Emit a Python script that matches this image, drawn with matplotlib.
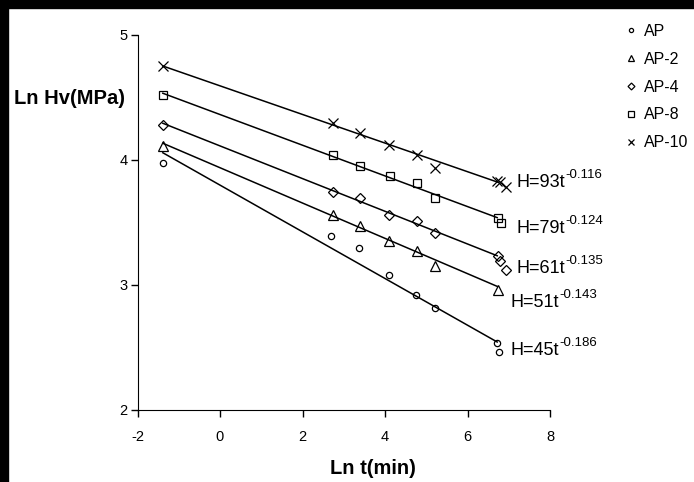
import numpy as np
import matplotlib
matplotlib.use("Agg")
import matplotlib.pyplot as plt
from matplotlib.patches import Rectangle
from matplotlib.lines import Line2D

plt.rcParams['font.family'] = ['Liberation Sans', 'DejaVu Sans']
plt.rcParams['axes.unicode_minus'] = False

# measured points (ln t, ln Hv)
ap_x = [-1.38, 2.69, 3.38, 4.09, 4.75, 5.20, 6.72, 6.77]
ap_y = [3.97, 3.39, 3.29, 3.08, 2.92, 2.81, 2.53, 2.46]
ap2_x = [-1.38, 2.73, 3.40, 4.09, 4.78, 5.22, 6.74]
ap2_y = [4.11, 3.56, 3.47, 3.35, 3.27, 3.15, 2.96]
ap4_x = [-1.38, 2.73, 3.40, 4.09, 4.78, 5.22, 6.74, 6.79, 6.93]
ap4_y = [4.28, 3.74, 3.69, 3.56, 3.51, 3.41, 3.23, 3.19, 3.12]
ap8_x = [-1.38, 2.73, 3.40, 4.11, 4.78, 5.22, 6.74, 6.80]
ap8_y = [4.52, 4.04, 3.95, 3.87, 3.81, 3.69, 3.535, 3.49]
ap10_x = [-1.38, 2.73, 3.40, 4.09, 4.78, 5.22, 6.72, 6.78, 6.93]
ap10_y = [4.75, 4.29, 4.21, 4.12, 4.04, 3.93, 3.83, 3.82, 3.78]

# trend lines, read at both ends
trend_x = [-1.386, 6.72]
ap_fit = [4.054, 2.54]
ap2_fit = [4.13, 2.985]
ap4_fit = [4.29, 3.23]
ap8_fit = [4.53, 3.535]
ap10_fit = [4.748, 3.82]

labels = ['AP', 'AP-2', 'AP-4', 'AP-8', 'AP-10']
eq_base = ['H=45t', 'H=51t', 'H=61t', 'H=79t', 'H=93t']
eq_exp = ['-0.186', '-0.143', '-0.135', '-0.124', '-0.116']
eq_pos = [(7.05, 2.436), (7.05, 2.822), (7.19, 3.09), (7.19, 3.41), (7.19, 3.782)]

fig = plt.figure(figsize=(6.94, 4.82), dpi=100)
ax = fig.add_axes([137.5/694, 1-409.5/482, 412.5/694, 375/482])

xs = [ap_x, ap2_x, ap4_x, ap8_x, ap10_x]
ys = [ap_y, ap2_y, ap4_y, ap8_y, ap10_y]
fits = [ap_fit, ap2_fit, ap4_fit, ap8_fit, ap10_fit]
mk = ['o', '^', 'D', 's', 'x']
ms = [4.5, 6.5, 5, 6, 6.5]

handles = []
for i in range(5):
    ax.plot(trend_x, fits[i], color='black', lw=1.1)
    ax.plot(xs[i], ys[i], linestyle='none', marker=mk[i], ms=ms[i],
            mfc='none', mec='black', mew=0.9)
    handles.append(Line2D([], [], linestyle='none', marker=mk[i], ms=ms[i]-1.5,
                          mfc='none', mec='black', mew=0.9))
    t = ax.text(eq_pos[i][0], eq_pos[i][1], eq_base[i], fontsize=13, va='baseline')
    ax.annotate(eq_exp[i], xy=(1, 0), xycoords=t, xytext=(0.3, 9.5),
                textcoords='offset points', fontsize=9.5, va='baseline')

ax.set_xlim(-2, 8)
ax.set_ylim(2, 5)
ax.set_xticks([-2, 0, 2, 4, 6, 8])
ax.set_yticks([2, 3, 4, 5])
ax.spines['top'].set_visible(False)
ax.spines['right'].set_visible(False)
ax.tick_params(direction='out', length=5, width=1, labelsize=10.5)
ax.tick_params(axis='x', pad=10)
ax.tick_params(axis='y', pad=2)
fig.text(373/694, 1-469/482, 'Ln t(min)', fontsize=14.5, fontweight='bold',
         ha='center', va='center')
fig.text(69/694, 1-98/482, 'Ln Hv(MPa)', fontsize=14.5, fontweight='bold',
         ha='center', va='center')
ax.patch.set_alpha(0)

fig.legend(handles, labels, loc='upper left', bbox_to_anchor=(617/694, 1-16/482),
           frameon=False, fontsize=11.5, handlelength=0.8, handletextpad=0.4,
           labelspacing=0.8, borderpad=0)

# black strips along the top and left edge
fig.patches.append(Rectangle((0, 1-8/482), 1, 8/482, transform=fig.transFigure,
                             color='black', zorder=10))
fig.patches.append(Rectangle((0, 0), 8/694, 1, transform=fig.transFigure,
                             color='black', zorder=10))

fig.savefig('out.png', dpi=100)
